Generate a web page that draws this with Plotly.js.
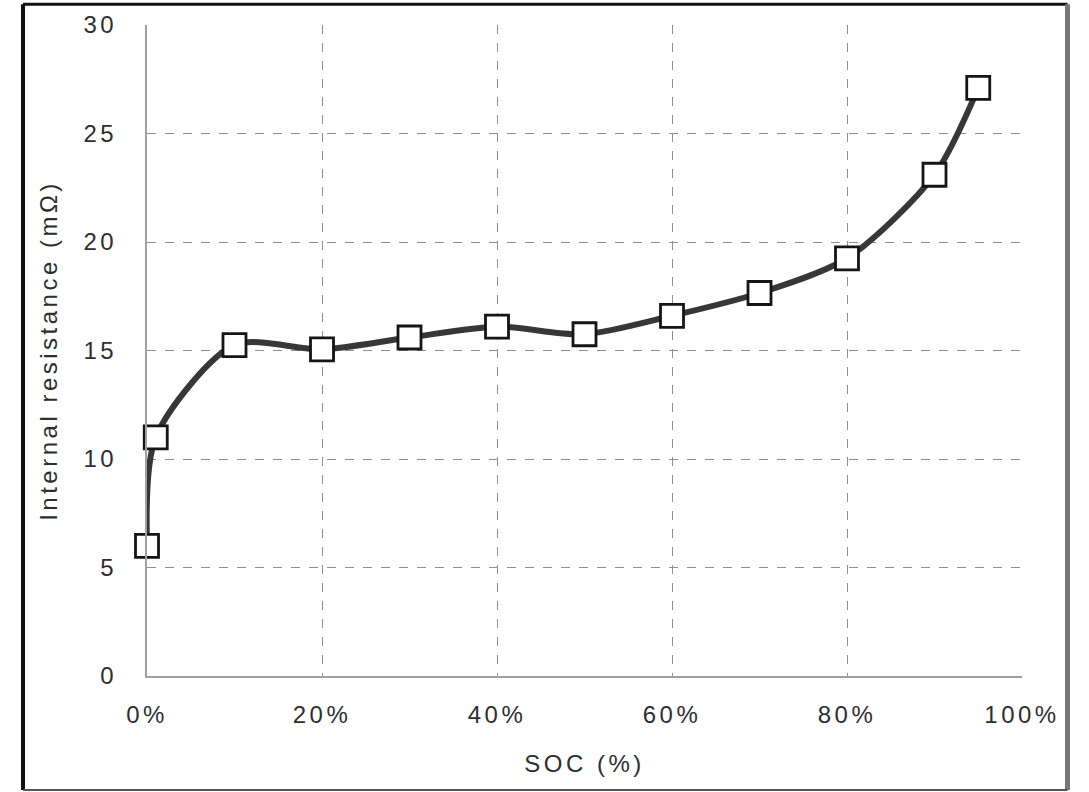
<!DOCTYPE html>
<html>
<head>
<meta charset="utf-8">
<script src="https://cdn.plot.ly/plotly-3.0.1.min.js"></script>
<style>
html,body{margin:0;padding:0;background:#fff;}
#chart{width:1089px;height:792px;}
#chart text.xtitle, #chart text.ytitle, #chart .xtick text, #chart .ytick text { letter-spacing: 3.5px; }
</style>
</head>
<body>
<div id="chart"></div>
<script>
const socPercent = [0, 1, 10, 20, 30, 40, 50, 60, 70, 80, 90, 95];
const resistance = [6.0, 11.0, 15.25, 15.05, 15.6, 16.1, 15.75, 16.6, 17.65, 19.25, 23.1, 27.1];
const xTickVals = [0, 20, 40, 60, 80, 100];
const xTickText = ['0%', '20%', '40%', '60%', '80%', '100%'];
const yTickVals = [0, 5, 10, 15, 20, 25, 30];

const trace = {
  x: socPercent,
  y: resistance,
  mode: 'lines+markers',
  type: 'scatter',
  line: {color: '#373737', width: 6, shape: 'spline', smoothing: 0.8},
  marker: {symbol: 'square', size: 23, color: '#ffffff', line: {color: '#151515', width: 2.8}},
  cliponaxis: false,
  hoverinfo: 'x+y'
};

const fontFam = '"Liberation Sans", Arial, sans-serif';
const txtColor = '#2e2e2e';

const layout = {
  width: 1089, height: 792,
  margin: {l: 147, r: 67, t: 25, b: 116},
  paper_bgcolor: '#ffffff', plot_bgcolor: '#ffffff',
  showlegend: false,
  font: {family: fontFam, color: txtColor, size: 24},
  xaxis: {
    range: [0, 100], tickvals: xTickVals, ticktext: xTickText,
    showgrid: true, gridcolor: '#8f8f8f', griddash: 'dash', gridwidth: 1,
    zeroline: false, showline: true, linecolor: '#a0a0a0', linewidth: 2,
    ticks: '', ticklabelstandoff: 16,
    tickfont: {family: fontFam, size: 24, color: txtColor},
    title: {text: 'SOC (%)', font: {family: fontFam, size: 24, color: txtColor}, standoff: 28}
  },
  yaxis: {
    range: [0, 30], tickvals: yTickVals,
    showgrid: true, gridcolor: '#8f8f8f', griddash: 'dash', gridwidth: 1,
    zeroline: false, showline: true, linecolor: '#a0a0a0', linewidth: 2,
    ticks: '', ticklabelstandoff: 23,
    tickfont: {family: fontFam, size: 24, color: txtColor},
    title: {text: 'Internal resistance (mΩ)', font: {family: fontFam, size: 24, color: txtColor}, standoff: 26}
  },
  shapes: [
    {type: 'line', xref: 'paper', yref: 'paper', x0: -0.1417, x1: -0.1417, y0: -0.175, y1: 1.032, line: {color: '#111', width: 4}},
    {type: 'line', xref: 'paper', yref: 'paper', x0: -0.1417, x1: 1.052, y0: 1.032, y1: 1.032, line: {color: '#111', width: 3}},
    {type: 'line', xref: 'paper', yref: 'paper', x0: 1.052, x1: 1.052, y0: -0.175, y1: 1.032, line: {color: '#777', width: 5}},
    {type: 'line', xref: 'paper', yref: 'paper', x0: -0.1417, x1: 1.052, y0: -0.175, y1: -0.175, line: {color: '#555', width: 2}}
  ]
};

Plotly.newPlot('chart', [trace], layout, {displayModeBar: false, staticPlot: true});
</script>
</body>
</html>
